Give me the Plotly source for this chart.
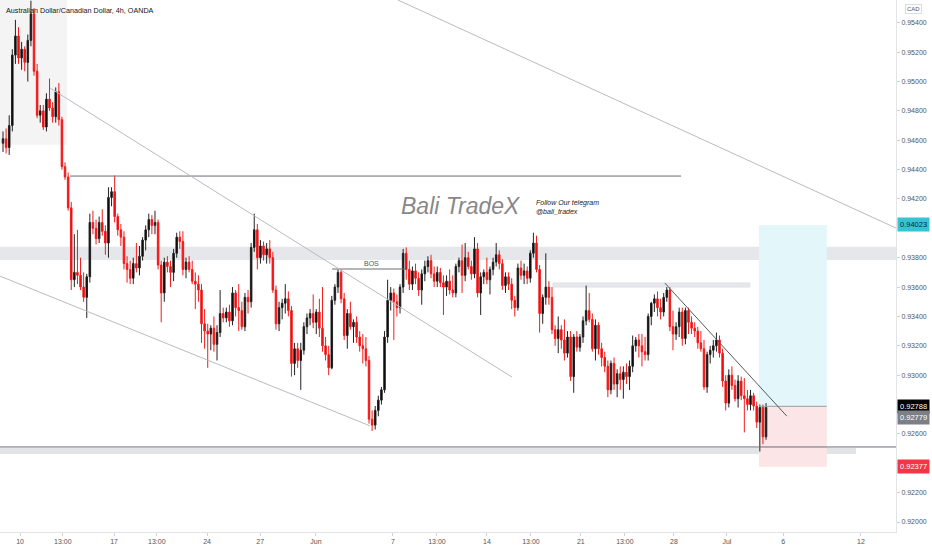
import plotly.graph_objects as go

# AUD/CAD 4h candles, prices in pips (1 pip = 0.0001)
opens = [
    9458, 9461, 9455, 9470, 9518, 9531, 9516, 9522, 9513, 9528,
    9546, 9507, 9477, 9480, 9469, 9488, 9482, 9476, 9493, 9474,
    9442, 9435, 9414, 9365, 9370, 9368, 9360, 9353, 9367, 9404,
    9400, 9393, 9404, 9398, 9390, 9421, 9425, 9408, 9399, 9394,
    9376, 9372, 9366, 9376, 9373, 9381, 9392, 9399, 9406, 9402,
    9404, 9375, 9356, 9377, 9374, 9370, 9383, 9394, 9391, 9372,
    9377, 9372, 9364, 9362, 9358, 9335, 9330, 9328, 9332, 9321,
    9329, 9342, 9339, 9343, 9337, 9356, 9346, 9344, 9333, 9353,
    9350, 9387, 9399, 9380, 9388, 9382, 9386, 9380, 9358, 9335,
    9346, 9349, 9352, 9344, 9308, 9318, 9310, 9317, 9333, 9339,
    9342, 9336, 9343, 9332, 9320, 9314, 9305, 9351, 9360, 9370,
    9352, 9327, 9342, 9333, 9336, 9326, 9320, 9318, 9310, 9270,
    9266, 9276, 9283, 9290, 9326, 9351, 9356, 9350, 9346, 9360,
    9383, 9372, 9362, 9371, 9366, 9358, 9369, 9374, 9378, 9369,
    9364, 9370, 9363, 9360, 9364, 9358, 9356, 9374, 9378, 9368,
    9380, 9374, 9369, 9386, 9356, 9367, 9370, 9365, 9372, 9377,
    9382, 9376, 9361, 9367, 9362, 9351, 9346, 9373, 9368, 9371,
    9366, 9383, 9390, 9372, 9342, 9353, 9360, 9353, 9331, 9325,
    9331, 9324, 9315, 9326, 9299, 9326, 9319, 9326, 9337, 9344,
    9338, 9318, 9334, 9318, 9312, 9306, 9290, 9308, 9294, 9301,
    9297, 9302, 9299, 9306, 9320, 9324, 9320, 9316, 9314, 9340,
    9349, 9352, 9346, 9343, 9353, 9358, 9333, 9328, 9333, 9343,
    9325, 9344, 9336, 9332, 9330, 9322, 9318, 9292, 9314, 9317,
    9320, 9324, 9315, 9296, 9281, 9300, 9293, 9284, 9296, 9286,
    9284, 9280, 9286, 9279, 9268, 9278, 9258,
]
highs = [
    9466, 9468, 9477, 9522, 9542, 9537, 9527, 9524, 9532, 9555,
    9550, 9512, 9484, 9484, 9492, 9502, 9486, 9496, 9499, 9476,
    9445, 9438, 9418, 9396, 9399, 9380, 9370, 9369, 9410, 9412,
    9406, 9408, 9413, 9402, 9428, 9428, 9436, 9410, 9403, 9398,
    9381, 9378, 9380, 9390, 9388, 9394, 9402, 9410, 9409, 9412,
    9406, 9378, 9380, 9381, 9378, 9386, 9397, 9398, 9398, 9380,
    9381, 9378, 9370, 9368, 9362, 9345, 9335, 9334, 9340, 9334,
    9358, 9346, 9346, 9348, 9360, 9358, 9362, 9350, 9356, 9358,
    9390, 9410, 9403, 9392, 9391, 9390, 9392, 9384, 9361, 9350,
    9352, 9362, 9357, 9347, 9322, 9322, 9322, 9336, 9342, 9345,
    9355, 9345, 9352, 9360, 9326, 9320, 9354, 9362, 9372, 9372,
    9356, 9345, 9350, 9338, 9340, 9330, 9328, 9326, 9313, 9276,
    9279, 9286, 9292, 9330, 9365, 9360, 9359, 9355, 9362, 9386,
    9387, 9378, 9374, 9376, 9370, 9372, 9378, 9381, 9382, 9374,
    9374, 9373, 9368, 9368, 9372, 9368, 9376, 9380, 9389, 9390,
    9384, 9378, 9394, 9390, 9370, 9372, 9380, 9374, 9380, 9390,
    9385, 9379, 9370, 9370, 9366, 9354, 9376, 9378, 9376, 9374,
    9385, 9397, 9395, 9375, 9355, 9383, 9364, 9360, 9334, 9340,
    9334, 9338, 9330, 9330, 9328, 9330, 9328, 9340, 9361, 9356,
    9342, 9338, 9336, 9322, 9316, 9310, 9310, 9312, 9304, 9306,
    9306, 9308, 9310, 9327, 9326, 9328, 9328, 9326, 9342, 9350,
    9355, 9357, 9352, 9356, 9360, 9360, 9344, 9336, 9346, 9346,
    9346, 9346, 9340, 9336, 9333, 9330, 9324, 9316, 9320, 9324,
    9329, 9327, 9318, 9300, 9304, 9306, 9297, 9300, 9299, 9298,
    9290, 9290, 9288, 9282, 9280, 9280, 9281,
]
lows = [
    9452, 9451, 9450, 9466, 9512, 9512, 9508, 9507, 9500, 9524,
    9504, 9475, 9472, 9467, 9466, 9480, 9472, 9472, 9470, 9440,
    9433, 9412, 9358, 9360, 9362, 9358, 9350, 9339, 9363, 9396,
    9389, 9390, 9395, 9382, 9380, 9415, 9404, 9395, 9388, 9372,
    9363, 9362, 9362, 9370, 9368, 9378, 9385, 9394, 9396, 9396,
    9372, 9336, 9350, 9370, 9360, 9364, 9380, 9386, 9368, 9366,
    9370, 9362, 9345, 9350, 9322, 9318, 9305, 9317, 9316, 9310,
    9326, 9336, 9336, 9333, 9334, 9340, 9330, 9331, 9330, 9342,
    9346, 9384, 9372, 9376, 9378, 9376, 9376, 9356, 9331, 9330,
    9338, 9342, 9340, 9299, 9300, 9305, 9290, 9314, 9328, 9334,
    9332, 9328, 9326, 9316, 9310, 9300, 9304, 9348, 9356, 9349,
    9324, 9318, 9331, 9322, 9322, 9316, 9308, 9306, 9267, 9262,
    9263, 9272, 9280, 9288, 9322, 9344, 9324, 9340, 9342, 9356,
    9365, 9358, 9358, 9362, 9354, 9348, 9364, 9370, 9366, 9360,
    9360, 9360, 9341, 9354, 9355, 9353, 9353, 9370, 9356, 9364,
    9372, 9365, 9366, 9353, 9341, 9362, 9362, 9355, 9368, 9374,
    9372, 9358, 9356, 9358, 9345, 9340, 9344, 9365, 9362, 9362,
    9363, 9380, 9370, 9329, 9335, 9348, 9348, 9328, 9320, 9315,
    9318, 9310, 9312, 9296, 9288, 9316, 9316, 9322, 9334, 9336,
    9316, 9310, 9314, 9306, 9302, 9285, 9287, 9290, 9285, 9290,
    9284, 9294, 9290, 9302, 9316, 9312, 9306, 9310, 9310, 9334,
    9343, 9340, 9338, 9340, 9350, 9330, 9317, 9324, 9326, 9320,
    9321, 9328, 9328, 9326, 9318, 9316, 9290, 9288, 9308, 9312,
    9316, 9312, 9292, 9276, 9278, 9290, 9282, 9278, 9283, 9261,
    9276, 9276, 9276, 9264, 9248, 9253, 9256,
]
closes = [
    9461, 9455, 9470, 9518, 9531, 9516, 9522, 9513, 9528, 9546,
    9507, 9477, 9480, 9469, 9488, 9482, 9476, 9493, 9474, 9442,
    9435, 9414, 9365, 9370, 9368, 9360, 9353, 9367, 9404, 9400,
    9393, 9404, 9398, 9390, 9421, 9425, 9408, 9399, 9394, 9376,
    9372, 9366, 9376, 9373, 9381, 9392, 9399, 9406, 9402, 9404,
    9375, 9356, 9377, 9374, 9370, 9383, 9394, 9391, 9372, 9377,
    9372, 9364, 9362, 9358, 9335, 9330, 9328, 9332, 9321, 9329,
    9342, 9339, 9343, 9337, 9356, 9346, 9344, 9333, 9353, 9350,
    9387, 9399, 9380, 9388, 9382, 9386, 9380, 9358, 9335, 9346,
    9349, 9352, 9344, 9308, 9318, 9310, 9317, 9333, 9339, 9342,
    9336, 9343, 9332, 9320, 9314, 9305, 9351, 9360, 9370, 9352,
    9327, 9342, 9333, 9336, 9326, 9320, 9318, 9310, 9270, 9266,
    9276, 9283, 9290, 9326, 9351, 9356, 9350, 9346, 9360, 9383,
    9372, 9362, 9371, 9366, 9358, 9369, 9374, 9378, 9369, 9364,
    9370, 9363, 9360, 9364, 9358, 9356, 9374, 9378, 9368, 9380,
    9374, 9369, 9386, 9356, 9367, 9370, 9365, 9372, 9377, 9382,
    9376, 9361, 9367, 9362, 9351, 9346, 9373, 9368, 9371, 9366,
    9383, 9390, 9372, 9342, 9353, 9360, 9353, 9331, 9325, 9331,
    9324, 9315, 9326, 9299, 9326, 9319, 9326, 9337, 9344, 9338,
    9318, 9334, 9318, 9312, 9306, 9290, 9308, 9294, 9301, 9297,
    9302, 9299, 9306, 9320, 9324, 9320, 9316, 9314, 9340, 9349,
    9352, 9346, 9343, 9353, 9358, 9333, 9328, 9333, 9343, 9325,
    9344, 9336, 9332, 9330, 9322, 9318, 9292, 9314, 9317, 9320,
    9324, 9315, 9296, 9281, 9300, 9293, 9284, 9296, 9286, 9284,
    9280, 9286, 9279, 9268, 9278, 9258, 9278,
]

# time axis labels (bar index positions)
x_tick_vals = [5.5, 19.3, 35.8, 49.6, 65.8, 82.9, 100.9, 125.7, 139.9,
               156.0, 170.2, 186.3, 200.5, 216.3, 233.4, 251.5, 276.6]
x_tick_text = ["10", "13:00", "17", "13:00", "24", "27", "Jun", "7", "13:00",
               "14", "13:00", "21", "13:00", "28", "Jul", "6", "12"]

# price scale (0.940 and 0.928 sit under the drawing labels)
y_tick_vals = [0.920, 0.922, 0.924, 0.926, 0.930, 0.932, 0.934, 0.936,
               0.938, 0.942, 0.944, 0.946, 0.948, 0.950, 0.952, 0.954]

# drawings
entry_price = 0.92788
target_price = 0.94023
stop_price = 0.92377
last_price = 0.92779

PIP = 10000.0
idx = list(range(len(closes)))

fig = go.Figure(go.Candlestick(
    x=idx,
    open=[v / PIP for v in opens],
    high=[v / PIP for v in highs],
    low=[v / PIP for v in lows],
    close=[v / PIP for v in closes],
    increasing=dict(line=dict(color="#222222", width=1), fillcolor="#000000"),
    decreasing=dict(line=dict(color="#f01c1c", width=1), fillcolor="#ff0000"),
    whiskerwidth=0,
    showlegend=False,
    hoverinfo="skip",
))

gray_line = dict(color="#b8bbc2", width=1)
dark_line = dict(color="#6a6d75", width=1)

shapes = [
    # shaded area top-left
    dict(type="rect", x0=-2, x1=20.6, y0=0.94570, y1=0.9600,
         fillcolor="#f4f4f5", line_width=0, layer="below"),
    # supply zone
    dict(type="rect", x0=-2, x1=300, y0=0.93785, y1=0.93875,
         fillcolor="#e6e7eb", line_width=0, layer="below"),
    # small zone
    dict(type="rect", x0=177.3, x1=240.8, y0=0.93600, y1=0.93628,
         fillcolor="#e6e7eb", line=dict(color="#e0e1e6", width=1), layer="below"),
    # demand zone
    dict(type="rect", x0=-2, x1=275.0, y0=0.92463, y1=0.92504,
         fillcolor="#e3e4e8", line_width=0, layer="below"),
    # long position
    dict(type="rect", x0=243.7, x1=265.6, y0=entry_price, y1=target_price,
         fillcolor="#e3f7fa", line_width=0, layer="below"),
    dict(type="rect", x0=243.7, x1=265.6, y0=stop_price, y1=entry_price,
         fillcolor="#fce5e6", line_width=0, layer="below"),
    dict(type="line", x0=243.7, x1=265.6, y0=entry_price, y1=entry_price,
         line=dict(color="#9a9ca3", width=1)),
    # horizontal levels
    dict(type="line", x0=-2, x1=300, y0=0.92511, y1=0.92511, line=dark_line),
    dict(type="line", x0=21.6, x1=218.6, y0=0.94356, y1=0.94356, line=dark_line),
    dict(type="line", x0=106.1, x1=129.6, y0=0.93723, y1=0.93723, line=dark_line),
    # trend lines
    dict(type="line", x0=15.2, x1=164.1, y0=0.94955, y1=0.92987, line=gray_line),
    dict(type="line", x0=-1.0, x1=118.3, y0=0.93675, y1=0.92655, line=gray_line),
    dict(type="line", x0=127.3, x1=287.9, y0=0.95555, y1=0.94002, line=gray_line),
    dict(type="line", x0=213.4, x1=252.7, y0=0.93627, y1=0.92721,
         line=dict(color="#55585f", width=1)),
]

price_label = dict(xref="paper", x=1, xanchor="left", xshift=1, yref="y",
                   showarrow=False, borderpad=2, font=dict(size=7.5, color="#ffffff"))

annotations = [
    dict(xref="paper", yref="paper", x=0.0045, y=0.981, xanchor="left",
         yanchor="middle", showarrow=False,
         text="Australian Dollar/Canadian Dollar, 4h, OANDA",
         font=dict(size=7.2, color="#131722", family="Liberation Sans")),
    dict(xref="paper", yref="paper", x=0.5145, y=0.6128, showarrow=False,
         text="<i>Bali TradeX</i>",
         font=dict(size=23, color="#888888", family="Liberation Sans")),
    dict(xref="paper", yref="paper", x=0.596, y=0.611, xanchor="left",
         showarrow=False, align="left",
         text="<i>Follow Our telegram<br>@bali_tradex</i>",
         font=dict(size=7, color="#222222", family="Liberation Sans")),
    dict(x=118.8, y=0.93723, yanchor="bottom", yshift=0, showarrow=False,
         text="BOS", font=dict(size=7, color="#555555")),
    dict(xref="paper", yref="paper", x=1, y=1, xanchor="center", yanchor="top",
         xshift=17, yshift=-4, showarrow=False, text="CAD",
         bordercolor="#dcdcdc", borderwidth=1, borderpad=1,
         font=dict(size=6, color="#555555")),
    dict(price_label, y=target_price, text="%.5f" % target_price, bgcolor="#36c3d3",
         font=dict(size=7.5, color="#0b2a3a")),
    dict(price_label, y=entry_price, text="%.5f" % entry_price, bgcolor="#000000"),
    dict(price_label, y=last_price, yshift=-10, text="%.5f" % last_price,
         bgcolor="#7d7f86"),
    dict(price_label, y=stop_price, text="%.5f" % stop_price, bgcolor="#f23645"),
]

fig.update_layout(
    width=932, height=550,
    margin=dict(l=0, r=36, t=0, b=18),
    paper_bgcolor="white", plot_bgcolor="white",
    font=dict(family="Liberation Sans", color="#555555"),
    shapes=shapes,
    annotations=annotations,
    xaxis=dict(
        range=[-0.967, 287.9], rangeslider=dict(visible=False),
        tickvals=x_tick_vals, ticktext=x_tick_text,
        tickfont=dict(size=7, color="#555555"),
        showgrid=False, zeroline=False,
        showline=True, linecolor="#e3e4e8", linewidth=1,
        ticks="outside", ticklen=3, tickcolor="#cfd1d6",
    ),
    yaxis=dict(
        range=[0.91932, 0.95555], side="right",
        tickvals=y_tick_vals, tickformat=".5f",
        tickfont=dict(size=7, color="#555555"),
        showgrid=False, zeroline=False,
        showline=True, linecolor="#e3e4e8", linewidth=1,
        ticks="outside", ticklen=3, tickcolor="#cfd1d6",
    ),
)

# page body has a default 8px margin; remove it so the chart fills the window
fig.write_html("out.html", config={"displayModeBar": False},
               post_script="document.body.style.margin='0';"
               "document.body.style.overflow='hidden';")
